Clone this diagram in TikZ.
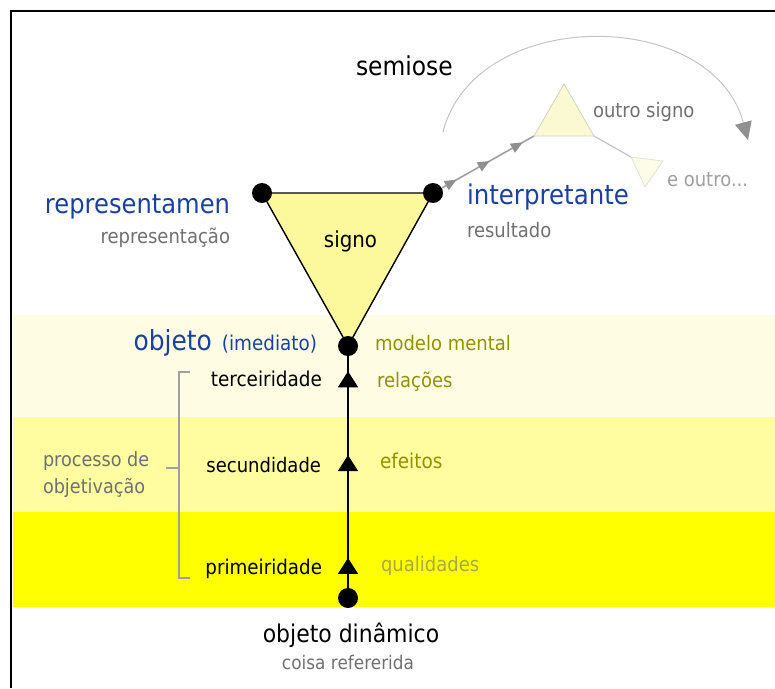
\documentclass[tikz,border=0pt]{standalone}
\usepackage{fontspec}
\setmainfont[FakeStretch=0.9]{DejaVu Sans}
\usetikzlibrary{arrows.meta,decorations.markings}
\definecolor{bandA}{HTML}{FEFDE4}
\definecolor{bandB}{HTML}{FFFDA0}
\definecolor{bandC}{HTML}{FFFF00}
\definecolor{trifill}{HTML}{FCF89C}
\definecolor{osfill}{HTML}{FBF9D2}
\definecolor{osedge}{HTML}{D4D4C0}
\definecolor{eofill}{HTML}{FCFCE8}
\definecolor{eoedge}{HTML}{E2E2D4}
\definecolor{hblue}{HTML}{1A41A0}
\definecolor{txtgray}{HTML}{707070}
\definecolor{lgray}{HTML}{A0A0A0}
\definecolor{olive}{HTML}{929200}
\definecolor{lolive}{HTML}{ABAB3C}
\definecolor{arcgray}{HTML}{C4C4C4}
\definecolor{tipgray}{HTML}{909090}
\tikzset{
  dot/.style={circle,fill=black,inner sep=0pt,minimum size=20pt},
  lbl/.style={inner sep=0pt,outer sep=0pt},
  small/.style={lbl,font=\fontsize{20}{22}\selectfont},
  big/.style={lbl,text=hblue,font=\fontsize{26.9}{30}\selectfont},
  graytxt/.style={small,text=txtgray},
  olivetxt/.style={small,text=olive},
}
\begin{document}
\begin{tikzpicture}[x=1pt,y=-1pt]
\useasboundingbox (0,0) rectangle (775,688);
% bands
\fill[bandA] (12.5,315) rectangle (775,417);
\fill[bandB] (12.5,417) rectangle (775,512);
\fill[bandC] (12.5,512) rectangle (775,607);
% frame
\draw[line width=2.5pt] (11,688) -- (11,11) -- (775,11);

% coordinates of the sign triangle
\coordinate (r) at (262,193);
\coordinate (i) at (433,193);
\coordinate (o) at (348,346);
\coordinate (d) at (348,598);
% other sign triangles
\coordinate (os1) at (534,136);
\coordinate (os2) at (594,136);
\coordinate (os3) at (564,84);
\coordinate (eo1) at (631,157);
\coordinate (eo2) at (663,161);
\coordinate (eo3) at (645,187);

% semiose arc
\coordinate (sa) at (443,132);
\coordinate (sb) at (748,140);
\draw[arcgray,line width=1pt,-{Triangle[length=18pt,width=17pt,color=tipgray]}]
  (sa) .. controls (475,6) and (712,6) .. (sb);

% main triangle
\draw[fill=trifill,line width=1.4pt,line join=miter] (r) -- (i) -- (o) -- cycle;

% other sign
\draw[fill=osfill,draw=osedge,line width=0.8pt] (os1) -- (os2) -- (os3) -- cycle;
\draw[draw=arcgray,line width=1.2pt] (os2) -- (eo1);
\draw[fill=eofill,draw=eoedge,line width=0.8pt] (eo1) -- (eo2) -- (eo3) -- cycle;

% dots
\node[dot] (R) at (r) {};
\node[dot] (I) at (i) {};
\node[dot] (O) at (o) {};
\node[dot] (D) at (d) {};

% connector to other sign
\draw[lgray,line width=1.6pt,
  decoration={markings,
    mark=at position 0.16 with {\arrow{Triangle[length=12pt,width=10pt,color=tipgray]}},
    mark=at position 0.52 with {\arrow{Triangle[length=12pt,width=10pt,color=tipgray]}},
    mark=at position 0.88 with {\arrow{Triangle[length=12pt,width=10pt,color=tipgray]}}},
  postaction={decorate}] (I) -- (os1);

% vertical objectivation line
\draw[black,line width=1.4pt,
  decoration={markings,
    mark=at position 0.129 with {\arrow{Triangle[length=16pt,width=20pt]}},
    mark=at position 0.573 with {\arrow{Triangle[length=16pt,width=20pt]}},
    mark=at position 0.935 with {\arrow{Triangle[length=16pt,width=20pt]}}},
  postaction={decorate}] (D) -- (O);

% bracket
\draw[lgray,line width=1.3pt] (190,372) -- (179,372) -- (179,578) -- (190,578);
\draw[lgray,line width=1.3pt] (179,468) -- (166,468);

% texts
\node[lbl,anchor=base west,font=\fontsize{26}{28}\selectfont] (semiose) at (356,75) {semiose};
\node[big,anchor=base east] (rep) at (230,213) {representamen};
\node[graytxt,anchor=base east] (repr) at (230,243) {representação};
\node[big,anchor=base west,font=\fontsize{27.2}{30}\selectfont] (int) at (467,204) {interpretante};
\node[graytxt,anchor=base west] (res) at (467,237) {resultado};
\node[lbl,anchor=base,font=\fontsize{22}{24}\selectfont] (signo) at (350.5,247) {signo};
\node[graytxt,anchor=base west] (outro) at (593,117) {outro signo};
\node[small,text=lgray,anchor=base west] (eoutro) at (667,186) {e outro...};
\node[lbl,text=hblue,anchor=base east] (obj) at (317,350)
  {{\fontsize{27.7}{30}\selectfont objeto}\hspace{10pt}{\fontsize{20.4}{22}\selectfont (imediato)}};
\node[olivetxt,anchor=base west] (mm) at (375,350) {modelo mental};
\node[small,anchor=base east,font=\fontsize{20.5}{22}\selectfont] (terc) at (322,386) {terceiridade};
\node[olivetxt,anchor=base west] (rel) at (377,387) {relações};
\node[small,anchor=base east] (sec) at (321,472) {secundidade};
\node[olivetxt,anchor=base west,font=\fontsize{20.5}{22}\selectfont] (efe) at (380,468) {efeitos};
\node[small,anchor=base east,font=\fontsize{20.3}{22}\selectfont] (prim) at (322,574) {primeiridade};
\node[small,text=lolive,anchor=base west] (qual) at (381,571) {qualidades};
\node[graytxt,anchor=base west,font=\fontsize{19.6}{22}\selectfont] (proc1) at (43,466) {processo de};
\node[graytxt,anchor=base west,font=\fontsize{19.6}{22}\selectfont] (proc2) at (43,493) {objetivação};
\node[lbl,anchor=base,font=\fontsize{24.4}{26}\selectfont] (od) at (351,642) {objeto dinâmico};
\node[graytxt,anchor=base,font=\fontsize{18.8}{22}\selectfont] (coisa) at (348,669) {coisa refererida};
\end{tikzpicture}
\end{document}
